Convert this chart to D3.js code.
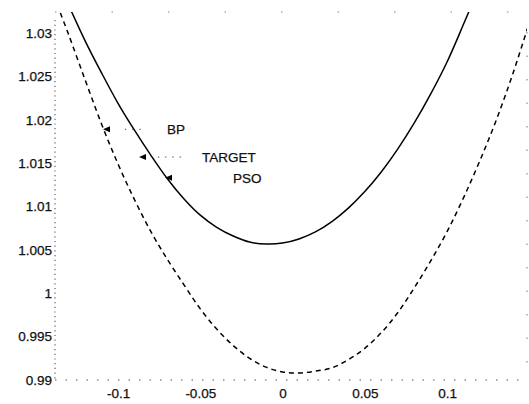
<!DOCTYPE html>
<html>
<head>
<meta charset="utf-8">
<script src="https://cdn.jsdelivr.net/npm/d3@7"></script>
<style>
html,body{margin:0;padding:0;background:#fff;}
svg{display:block;}
text{font-family:"Liberation Sans",Arial,sans-serif;fill:#111;}
</style>
</head>
<body>
<svg id="chart" width="529" height="404"></svg>
<script>
// ---- data ----
const xGrid = [-0.135,-0.13,-0.12,-0.11,-0.10,-0.09,-0.08,-0.07,-0.06,-0.05,-0.04,-0.03,-0.02,-0.01,0,0.01,0.02,0.03,0.04,0.05,0.06,0.07,0.08,0.09,0.10,0.11,0.12,0.13,0.14,0.15];
const solidValues = [null,1.0332,1.0291,1.0254,1.0219,1.0188,1.0159,1.0132,1.0109,1.0090,1.0076,1.0066,1.0059,1.00567,1.00578,1.00626,1.00707,1.00826,1.00981,1.01172,1.01398,1.01661,1.0196,1.02295,1.02666,1.0310,1.0355,null,null,null];
const dashedValues = [1.0323,1.0298,1.0246,1.0195,1.0149,1.0108,1.0071,1.0039,1.0010,0.9982,0.99587,0.99398,0.99249,0.99148,0.99093,0.9908,0.99103,0.9914,0.99235,0.99365,0.99545,0.99775,1.0006,1.0037,1.0071,1.0110,1.0153,1.0200,1.0253,1.0312];
const markerNames = ["BP","TARGET","PSO"];
const markerX = [-0.1067,-0.0848,-0.069];
const markerY = [1.0189,1.0157,1.0133];
const xTicks = [-0.1,-0.05,0,0.05,0.1];
const xTickLabels = ["-0.1","-0.05","0","0.05","0.1"];
const yTicks = [0.99,0.995,1,1.005,1.01,1.015,1.02,1.025,1.03];
const yTickLabels = ["0.99","0.995","1","1.005","1.01","1.015","1.02","1.025","1.03"];

// ---- layout ----
const L = 55, R = 527, T = 12, B = 380;
const x = d3.scaleLinear().domain([-0.1383, 0.1486]).range([L, R]);
const y = d3.scaleLinear().domain([0.99, 1.03]).range([B, 33]);

const svg = d3.select("#chart");
svg.append("defs").append("clipPath").attr("id","clip")
  .append("rect").attr("x",L).attr("y",T).attr("width",R-L).attr("height",B-T);

// dotted frame (faint, as in scanned figure)
const frame = svg.append("g").attr("stroke","#555").attr("fill","none");
frame.append("line").attr("x1",L).attr("x2",L).attr("y1",T+8).attr("y2",B)
  .attr("stroke-width",1.1).attr("stroke-dasharray","1.2,3.5");
frame.append("line").attr("x1",L).attr("x2",R).attr("y1",B).attr("y2",B)
  .attr("stroke-width",1.2).attr("stroke-dasharray","1.5,9");
frame.append("line").attr("x1",R).attr("x2",R).attr("y1",T+20).attr("y2",B)
  .attr("stroke-width",1).attr("stroke-dasharray","1.5,22").attr("stroke","#777");
frame.append("line").attr("x1",L).attr("x2",R).attr("y1",T).attr("y2",T)
  .attr("stroke-width",1).attr("stroke-dasharray","1.5,55").attr("stroke","#888");

// axes
const fs = 13.5;
const yAxis = svg.append("g").attr("transform",`translate(${L},0)`)
  .call(d3.axisLeft(y).tickValues(yTicks).tickFormat((d,i)=>yTickLabels[i]).tickSize(0).tickPadding(3));
yAxis.select(".domain").remove();
yAxis.selectAll("text").style("font-size",fs+"px").attr("fill","#111")
  .attr("stroke","#111").attr("stroke-width",0.25);

const xAxis = svg.append("g").attr("transform",`translate(0,${B})`)
  .call(d3.axisBottom(x).tickValues(xTicks).tickFormat((d,i)=>xTickLabels[i]).tickSize(0).tickPadding(8));
xAxis.select(".domain").remove();
xAxis.selectAll("text").style("font-size",fs+"px").attr("fill","#111")
  .attr("stroke","#111").attr("stroke-width",0.25);

// curves
const solidData = xGrid.map((v,i)=>({x:v,y:solidValues[i]})).filter(d=>d.y!==null);
const dashedData = xGrid.map((v,i)=>({x:v,y:dashedValues[i]})).filter(d=>d.y!==null);
const line = d3.line().x(d=>x(d.x)).y(d=>y(d.y)).curve(d3.curveCatmullRom.alpha(0.5));
const plot = svg.append("g").attr("clip-path","url(#clip)");
plot.append("path").datum(dashedData).attr("d",line)
  .attr("fill","none").attr("stroke","#000").attr("stroke-width",1.5).attr("stroke-dasharray","5,4");
plot.append("path").datum(solidData).attr("d",line)
  .attr("fill","none").attr("stroke","#000").attr("stroke-width",1.5);

// markers (small left-pointing arrowheads)
const markers = markerNames.map((n,i)=>({name:n,x:markerX[i],y:markerY[i]}));
const mk = svg.append("g");
markers.forEach(m=>{
  const px = x(m.x), py = y(m.y);
  mk.append("path")
    .attr("d",`M${px-4},${py} L${px+3},${py-3} L${px+3},${py+3} Z`)
    .attr("fill","#000");
});

// leader dots and labels
const labelDx = [60,59,64];
const leaderStart = [18,15,0];
const leaderEnd = [38,39,0];
markers.forEach((m,i)=>{
  const px = x(m.x), py = y(m.y);
  if (leaderEnd[i] > 0) {
    mk.append("line").attr("x1",px+leaderStart[i]).attr("x2",px+leaderEnd[i])
      .attr("y1",py).attr("y2",py)
      .attr("stroke","#333").attr("stroke-width",1).attr("stroke-dasharray","1.2,6");
  }
  mk.append("text").attr("x",px+labelDx[i]).attr("y",py).attr("dy","0.35em")
    .style("font-size",fs+"px").attr("stroke","#111").attr("stroke-width",0.25).text(m.name);
});
</script>
</body>
</html>
